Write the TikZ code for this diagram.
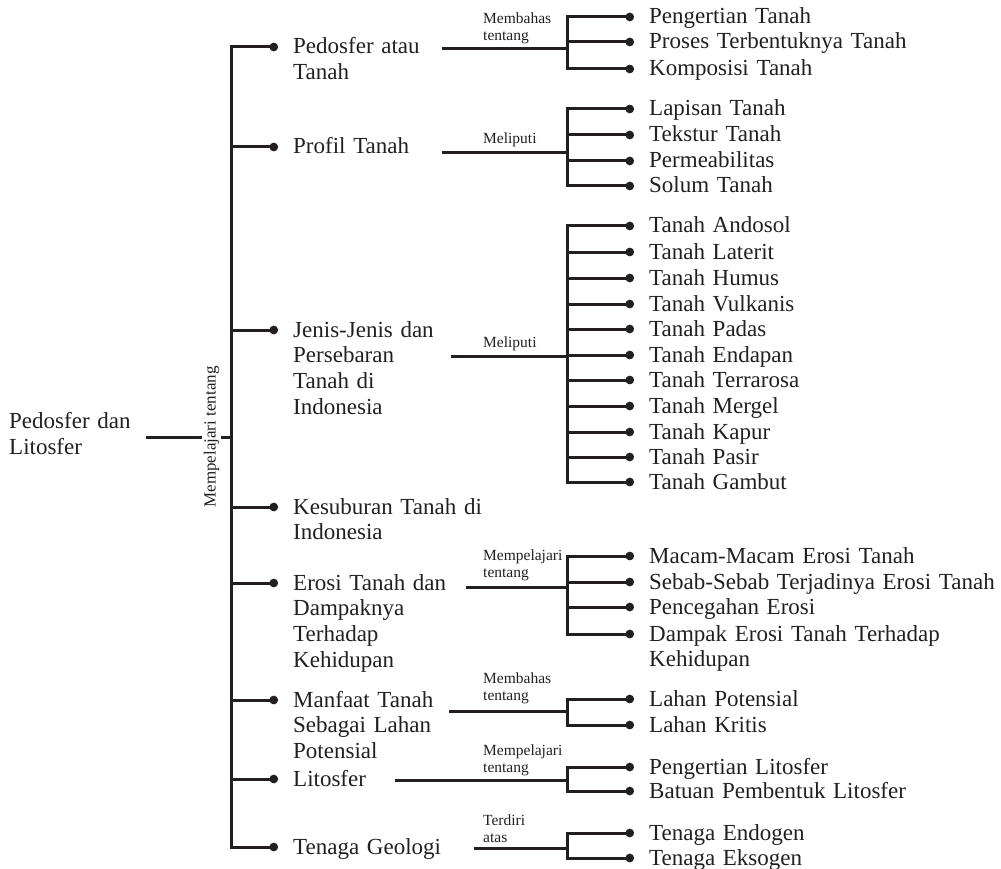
\documentclass[tikz,border=0pt]{standalone}
\usepackage{fontspec}
\setmainfont{Liberation Serif}
\usepackage{tikz}
\usetikzlibrary{arrows.meta, positioning, calc}
\definecolor{ink}{RGB}{35,31,32}
\tikzstyle{link} = [line width=3pt, draw=ink, line cap=rect]
\tikzstyle{tip} = [link, -{Circle[length=8.5pt]}]
\tikzstyle{root} = [anchor=base west, inner sep=0pt,
text width=150pt, align=left, text=ink,
font=\fontsize{23}{26}\selectfont]
\tikzstyle{topic} = [anchor=base west, yshift=-7pt, inner xsep=15pt, inner ysep=0pt,
text width=200pt, align=left, text=ink,
font=\fontsize{23}{25.7}\selectfont]
\tikzstyle{item} = [topic, text width=360pt]
\tikzstyle{note} = [anchor=base west, inner sep=0pt,
text width=90pt, align=left, text=ink,
font=\fontsize{15.5}{17}\selectfont]
\tikzstyle{about} = [rotate=90, fill=white, inner xsep=0pt, inner ysep=1.5pt,
text=ink, font=\fontsize{17}{20}\selectfont]

\begin{document}
\begin{tikzpicture}[x=1pt, y=-1pt]
  \useasboundingbox (0,0) rectangle (1001,869);

  % root and trunk
  \node[root] (root) at (9,428) {Pedosfer dan\\Litosfer};
  \coordinate (r0) at (147,437);
  \coordinate (trunk) at (231,437);

  % first level
  \node[topic] (t1) at (278,47) {Pedosfer atau\\Tanah};
  \node[topic] (t2) at (278,147) {Profil Tanah};
  \node[topic] (t3) at (278,330) {Jenis-Jenis dan\\Persebaran\\Tanah di\\Indonesia};
  \node[topic] (t4) at (278,507) {Kesuburan Tanah di\\Indonesia};
  \node[topic] (t5) at (278,583) {Erosi Tanah dan\\Dampaknya\\Terhadap\\Kehidupan};
  \node[topic] (t6) at (278,700) {Manfaat Tanah\\Sebagai Lahan\\Potensial};
  \node[topic] (t7) at (278,779) {Litosfer};
  \node[topic] (t8) at (278,847) {Tenaga Geologi};

  \draw[link] ([yshift=7pt]trunk |- t1.base west) -- ([yshift=7pt]trunk |- t8.base west);
  \draw[link] (r0) -- node[about, pos=0.77] (learn) {Mempelajari tentang} (trunk);
  \foreach \t in {t1,t2,t3,t4,t5,t6,t7,t8}
    \draw[tip] ([yshift=7pt]trunk |- \t.base west) -- ([yshift=7pt]\t.base west);

  % Pedosfer atau Tanah
  \node[item] (p11) at (634,17) {Pengertian Tanah};
  \node[item] (p12) at (634,42) {Proses Terbentuknya Tanah};
  \node[item] (p13) at (634,69) {Komposisi Tanah};
  \node[note] (n1) at (483,24) {Membahas\\tentang};
  \coordinate (s1) at (443,49);
  \coordinate (k1) at (567,49);

  % Profil Tanah
  \node[item] (p21) at (634,109) {Lapisan Tanah};
  \node[item] (p22) at (634,135) {Tekstur Tanah};
  \node[item] (p23) at (634,161) {Permeabilitas};
  \node[item] (p24) at (634,186) {Solum Tanah};
  \node[note] (n2) at (483,144) {Meliputi};
  \coordinate (s2) at (443,153);
  \coordinate (k2) at (567,153);

  % Jenis-Jenis dan Persebaran Tanah
  \node[item] (p31) at (634,226) {Tanah Andosol};
  \node[item] (p32) at (634,252) {Tanah Laterit};
  \node[item] (p33) at (634,278) {Tanah Humus};
  \node[item] (p34) at (634,304) {Tanah Vulkanis};
  \node[item] (p35) at (634,329) {Tanah Padas};
  \node[item] (p36) at (634,355) {Tanah Endapan};
  \node[item] (p37) at (634,380) {Tanah Terrarosa};
  \node[item] (p38) at (634,406) {Tanah Mergel};
  \node[item] (p39) at (634,432) {Tanah Kapur};
  \node[item] (p3a) at (634,457) {Tanah Pasir};
  \node[item] (p3b) at (634,482) {Tanah Gambut};
  \node[note] (n3) at (483,347) {Meliputi};
  \coordinate (s3) at (452,356);
  \coordinate (k3) at (567,356);

  % Erosi Tanah
  \node[item] (p51) at (634,556) {Macam-Macam Erosi Tanah};
  \node[item] (p52) at (634,582) {Sebab-Sebab Terjadinya Erosi Tanah};
  \node[item] (p53) at (634,607) {Pencegahan Erosi};
  \node[item] (p54) at (634,634) {Dampak Erosi Tanah Terhadap\\Kehidupan};
  \node[note] (n5) at (483,560) {Mempelajari\\tentang};
  \coordinate (s5) at (467,587);
  \coordinate (k5) at (567,587);

  % Manfaat Tanah
  \node[item] (p61) at (634,699) {Lahan Potensial};
  \node[item] (p62) at (634,725) {Lahan Kritis};
  \node[note] (n6) at (483,683) {Membahas\\tentang};
  \coordinate (s6) at (450,711);
  \coordinate (k6) at (567,711);

  % Litosfer
  \node[item] (p71) at (634,767) {Pengertian Litosfer};
  \node[item] (p72) at (634,791) {Batuan Pembentuk Litosfer};
  \node[note] (n7) at (483,755) {Mempelajari\\tentang};
  \coordinate (s7) at (396,780);
  \coordinate (k7) at (567,780);

  % Tenaga Geologi
  \node[item] (p81) at (634,833) {Tenaga Endogen};
  \node[item] (p82) at (634,858) {Tenaga Eksogen};
  \node[note] (n8) at (483,825) {Terdiri\\atas};
  \coordinate (s8) at (475,848);
  \coordinate (k8) at (567,848);

  % brackets
  \foreach \s/\k/\a/\b in {s1/k1/p11/p13, s2/k2/p21/p24, s3/k3/p31/p3b,
      s5/k5/p51/p54, s6/k6/p61/p62, s7/k7/p71/p72, s8/k8/p81/p82} {
    \draw[link] (\s) -- (\k);
    \draw[link] ([yshift=7pt]\k |- \a.base west) -- ([yshift=7pt]\k |- \b.base west);
  }
  \foreach \k/\p in {k1/p11, k1/p12, k1/p13, k2/p21, k2/p22, k2/p23, k2/p24,
      k3/p31, k3/p32, k3/p33, k3/p34, k3/p35, k3/p36, k3/p37, k3/p38, k3/p39,
      k3/p3a, k3/p3b, k5/p51, k5/p52, k5/p53, k5/p54, k6/p61, k6/p62,
      k7/p71, k7/p72, k8/p81, k8/p82}
    \draw[tip] ([yshift=7pt]\k |- \p.base west) -- ([yshift=7pt]\p.base west);
\end{tikzpicture}
\end{document}
